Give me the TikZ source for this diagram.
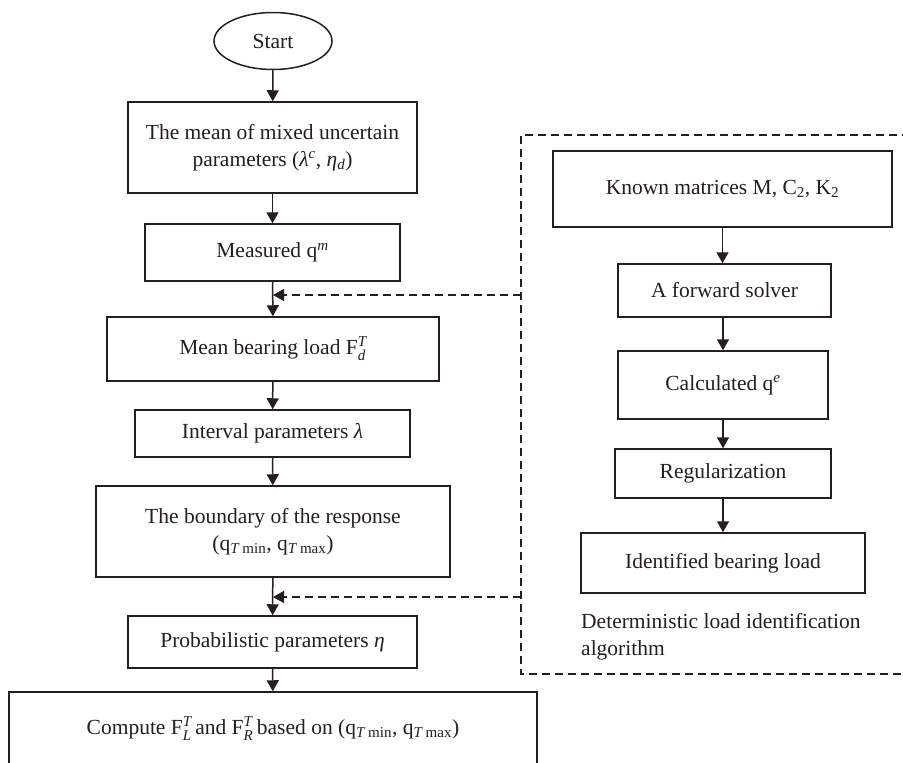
\documentclass[tikz,border=0pt]{standalone}
\usepackage{amsmath}
\usepackage{fontspec}
\setmainfont{Liberation Serif}
\usetikzlibrary{arrows.meta,shapes.geometric}
\definecolor{ink}{RGB}{35,31,32}
\newcommand{\ti}[1]{\textit{#1}}
\begin{document}
\begin{tikzpicture}[x=1pt,y=-1pt,
  every node/.style={font=\fontsize{21.5}{27}\selectfont, text=ink},
  box/.style={draw=ink, line width=1.5pt, rectangle, inner sep=0pt, align=center},
  startshape/.style={draw=ink, line width=1.5pt, ellipse, inner sep=0pt},
  arr/.style={draw=ink, line width=1.5pt, -{Triangle[width=12pt,length=11pt]}},
  darr/.style={draw=ink, line width=1.4pt, dash pattern=on 8pt off 5pt, -{Triangle[width=12pt,length=11pt]}},
  dashbox/.style={draw=ink, line width=1.4pt, dash pattern=on 8pt off 5pt}]
\useasboundingbox (0,0) rectangle (903,763);

% left column
\node[startshape, minimum width=118, minimum height=57] (start) at (273,41) {Start};
\node[box, minimum width=289, minimum height=91] (mean) at (272.5,147.5)
  {The mean of mixed uncertain\\parameters (\ti{λ}$^{\ti{c}}$, \ti{η}$_{\ti{d}}$)};
\node[box, minimum width=255, minimum height=57] (meas) at (272.5,252.5) {Measured q$^{\ti{m}}$};
\node[box, minimum width=332, minimum height=64] (mbl) at (273,349) {Mean bearing load F$^{\ti{T}}_{\ti{d}}$};
\node[box, minimum width=275, minimum height=47] (intv) at (272.5,433.5) {Interval parameters \ti{λ}};
\node[box, minimum width=354, minimum height=91] (bound) at (273,531.5)
  {The boundary of the response\\(q$_{\ti{T}\text{ min}}$, q$_{\ti{T}\text{ max}}$)};
\node[box, minimum width=289, minimum height=52] (prob) at (272.5,642) {Probabilistic parameters \ti{η}};
\node[box, minimum width=528, minimum height=73] (comp) at (273,728.5)
  {Compute F$^{\ti{T}}_{\ti{L}}$\,and F$^{\ti{T}}_{\ti{R}}$\,based on (q$_{\ti{T}\text{ min}}$, q$_{\ti{T}\text{ max}}$)};

% right column
\node[box, minimum width=339, minimum height=76] (known) at (722.5,189) {Known matrices M, C$_{\text{2}}$, K$_{\text{2}}$};
\node[box, minimum width=213, minimum height=53] (fwd) at (724.5,290.5) {A forward solver};
\node[box, minimum width=210, minimum height=68] (calc) at (723,385) {Calculated q$^{\ti{e}}$};
\node[box, minimum width=216, minimum height=49] (reg) at (723,473.5) {Regularization};
\node[box, minimum width=284, minimum height=60] (ident) at (723,563) {Identified bearing load};
\node[anchor=west, align=left, inner sep=0pt] (cap) at (581,637)
  {Deterministic load identification\\algorithm};

% dashed frame
\draw[dashbox] (910,135) -- (521,135) -- (521,674) -- (910,674);
\coordinate (d1) at (521,295);
\coordinate (d2) at (521,597);
\coordinate (j1) at (273,295);
\coordinate (j2) at (273,597);

% arrows
\draw[arr] (start) -- (mean);
\draw[arr] (mean) -- (meas);
\draw[arr] (meas) -- (mbl);
\draw[arr] (mbl) -- (intv);
\draw[arr] (intv) -- (bound);
\draw[arr] (bound) -- (prob);
\draw[arr] (prob) -- (comp);
\draw[arr] (known) -- (known.south |- fwd.north);
\draw[arr] (fwd.south -| calc.north) -- (calc);
\draw[arr] (calc) -- (reg);
\draw[arr] (reg) -- (ident);
\draw[darr] (d1) -- (j1);
\draw[darr] (d2) -- (j2);
\end{tikzpicture}
\end{document}
